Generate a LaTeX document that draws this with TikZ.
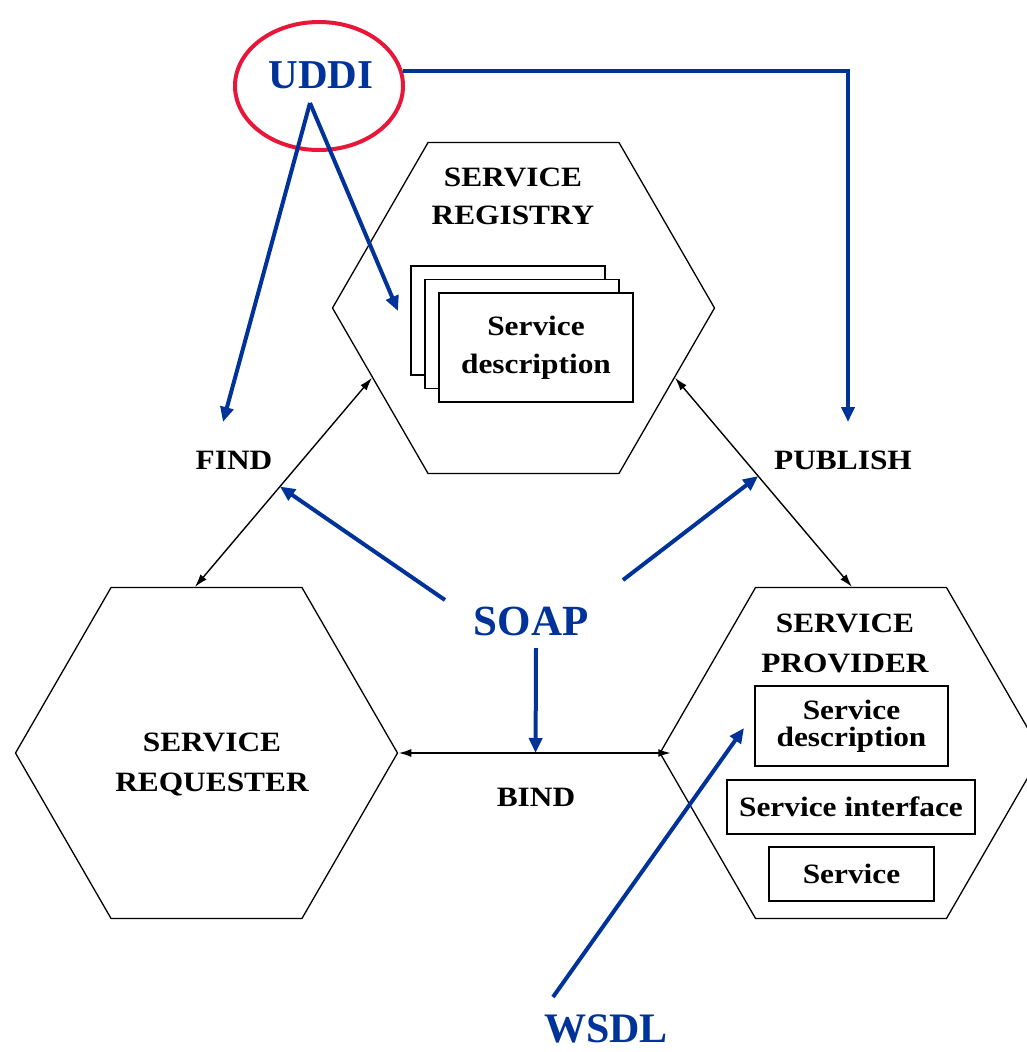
\documentclass[tikz,border=0pt]{standalone}
\usepackage{fontspec}
\setmainfont{Liberation Serif}
\newfontfamily\diafont[FakeStretch=1.12]{Liberation Serif}
\usetikzlibrary{shapes.geometric,arrows.meta,calc}
\definecolor{wsblue}{HTML}{003399}
\definecolor{wsred}{HTML}{E8173A}
\begin{document}
\begin{tikzpicture}[x=1pt,y=-1pt,
  hex/.style={draw, regular polygon, regular polygon sides=6, minimum size=382pt, inner sep=0pt, line width=1.3pt},
  role/.style={font=\diafont\bfseries\fontsize{28}{38}\selectfont, align=center, inner sep=0pt},
  card/.style={draw, fill=white, line width=1.4pt, inner sep=0pt, align=center},
  link/.style={line width=1.4pt, {Latex[length=13pt,width=8pt]}-{Latex[length=13pt,width=8pt]}},
  bluetxt/.style={text=wsblue, font=\bfseries, inner sep=0pt},
  bluearrow/.style={draw=wsblue, line width=4pt, -{Triangle[length=15pt,width=13pt]}}]
\useasboundingbox (0,0) rectangle (1027,1052);
\clip (0,0) rectangle (1027,1052);

% the three roles (corners: 1 top right, 2 top left, 3 left, 4 bottom left, 5 bottom right, 6 right)
\node[hex] (reg) at (523.5,308) {};
\node[hex] (req) at (206.5,753) {};
\node[hex] (prov) at (851,753) {};

% registry contents
\node[role] (regtitle) at (513,196) {SERVICE\\REGISTRY};
\node[card, minimum width=194pt, minimum height=109pt] (cardc) at (508,320.5) {};
\node[card, minimum width=194pt, minimum height=109pt] (cardb) at (522,334) {};
\node[card, minimum width=194pt, minimum height=109pt, font=\diafont\bfseries\fontsize{28}{38}\selectfont] (carda) at (536,347.5) {Service\\description};

% requester
\node[role] (reqtitle) at (212,764) {SERVICE\\[2pt]REQUESTER};

% provider contents
\node[role] (provtitle) at (845,643) {SERVICE\\[2pt]PROVIDER};
\node[card, minimum width=193pt, minimum height=80pt, font=\diafont\bfseries\fontsize{28}{27}\selectfont] (pdesc) at (851.5,726) {Service\\description};
\node[card, minimum width=248pt, minimum height=54pt, font=\diafont\bfseries\fontsize{28}{34}\selectfont] (pintf) at (851,807) {Service interface};
\node[card, minimum width=165pt, minimum height=54pt, font=\diafont\bfseries\fontsize{28}{34}\selectfont] (psvc) at (851.5,874) {Service};

% find / publish / bind connectors
\coordinate (findA) at ($(reg.corner 3)!0.42!(reg.corner 4)$);
\coordinate (findB) at ($(req.corner 2)!0.44!(req.corner 1)$);
\draw[link] (findA) -- coordinate[pos=0.52] (findMid) (findB);

\coordinate (pubA) at ($(reg.corner 6)!0.42!(reg.corner 5)$);
\coordinate (pubB) at ($(prov.corner 2)!0.505!(prov.corner 1)$);
\draw[link] (pubA) -- coordinate[pos=0.47] (pubMid) (pubB);

\coordinate (bindB) at ($(prov.corner 3)+(12,0)$);
\draw[link, line width=2.2pt] (req.corner 6) -- coordinate[pos=0.503] (bindMid) (bindB);

\node[role] (find) at (234,460) {FIND};
\node[role] (publish) at (843,460) {PUBLISH};
\node[role] (bind) at (536,797) {BIND};

% UDDI
\node[draw=wsred, line width=4pt, ellipse, minimum width=168pt, minimum height=128pt] (uddiring) at (319,86) {};
\node[bluetxt, font=\bfseries\fontsize{41}{41}\selectfont] (uddi) at (321,75) {UDDI};
\coordinate (uddifoot) at (310,103);
\coordinate (findin) at (223,422);
\coordinate (cardin) at (398,311);
\coordinate (pubin) at (848,422);
\draw[bluearrow] (uddifoot) -- (findin);
\draw[bluearrow] (uddifoot) -- (cardin);
\draw[bluearrow] (uddiring.10) -| (pubin);

% SOAP
\node[bluetxt, font=\bfseries\fontsize{43}{43}\selectfont] (soap) at (531,621) {SOAP};
\coordinate (soapL) at (445,600);
\coordinate (soapR) at (623,580);
\coordinate (soapD) at (536,648);
\draw[bluearrow] (soapL) -- (findMid);
\draw[bluearrow] (soapR) -- (pubMid);
\draw[bluearrow] (soapD) -- (bindMid);

% WSDL
\node[bluetxt, font=\bfseries\fontsize{42}{42}\selectfont] (wsdl) at (606,1029) {WSDL};
\coordinate (wsdlS) at (553,997);
\coordinate (wsdlT) at (744,728);
\draw[bluearrow] (wsdlS) -- (wsdlT);
\end{tikzpicture}
\end{document}
